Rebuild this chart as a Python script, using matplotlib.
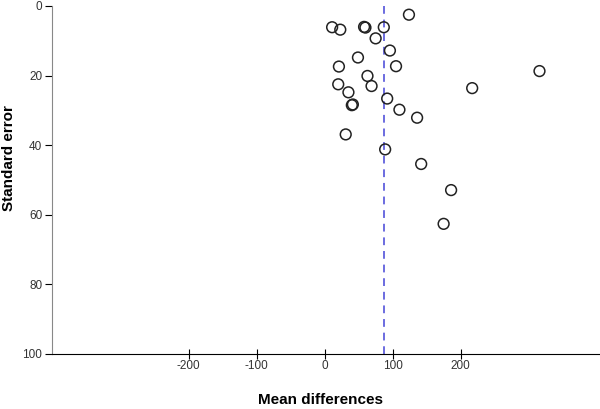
import matplotlib
matplotlib.use("Agg")
from matplotlib import pyplot as plt

# study estimates: mean difference and its standard error
mean_diff = [124, 11, 23, 58, 60, 87, 75, 96, 49, 21, 105, 63, 20, 69, 35, 92,
             40, 41.5, 110, 136, 31, 89, 142, 186, 175, 217, 316]
std_err = [2.5, 6.1, 6.8, 6.0, 6.2, 6.1, 9.3, 12.8, 14.8, 17.4, 17.3, 20.1, 22.5,
           23.0, 24.8, 26.6, 28.5, 28.3, 29.8, 32.1, 36.9, 41.2, 45.4, 52.9,
           62.6, 23.6, 18.7]
pooled = 87
x_ticks = [-200, -100, 0, 100, 200]
y_ticks = [0, 20, 40, 60, 80, 100]

plt.rcParams["font.family"] = ["Liberation Sans Narrow", "Liberation Sans", "DejaVu Sans"]
plt.rcParams["axes.unicode_minus"] = False

fig = plt.figure(figsize=(6, 4.09), dpi=100)
ax = fig.add_axes([52 / 600, 1 - 354 / 409, 548 / 600, 348 / 409])

ax.scatter(mean_diff, std_err, s=60, facecolors="none", edgecolors="#222222",
           linewidths=1.1, zorder=3)
ax.plot([pooled, pooled], [0, 100], color="#6b6be0", ls=(0, (4, 3)), lw=1.4)

ax.set_xlim(-401, 405)
ax.set_ylim(100, 0)
ax.set_xticks(x_ticks)
ax.set_yticks(y_ticks)
ax.tick_params(axis="x", direction="inout", length=7, labelsize=8.5, pad=1,
               labelcolor="#333333")
ax.tick_params(axis="y", direction="out", length=5, labelsize=8.5, pad=2,
               labelcolor="#333333")

for s in ["top", "right"]:
    ax.spines[s].set_visible(False)
ax.spines["left"].set_color("#888888")
ax.spines["bottom"].set_color("black")

fig.text(320 / 600, 1 - 400 / 409, "Mean differences", fontsize=11,
         fontweight="bold", family=["Liberation Sans", "DejaVu Sans"],
         ha="center", va="center")
fig.text(9 / 600, 1 - 158 / 409, "Standard error", fontsize=11,
         fontweight="bold", family=["Liberation Sans", "DejaVu Sans"],
         ha="center", va="center", rotation=90)

fig.savefig("out.png", dpi=100)
